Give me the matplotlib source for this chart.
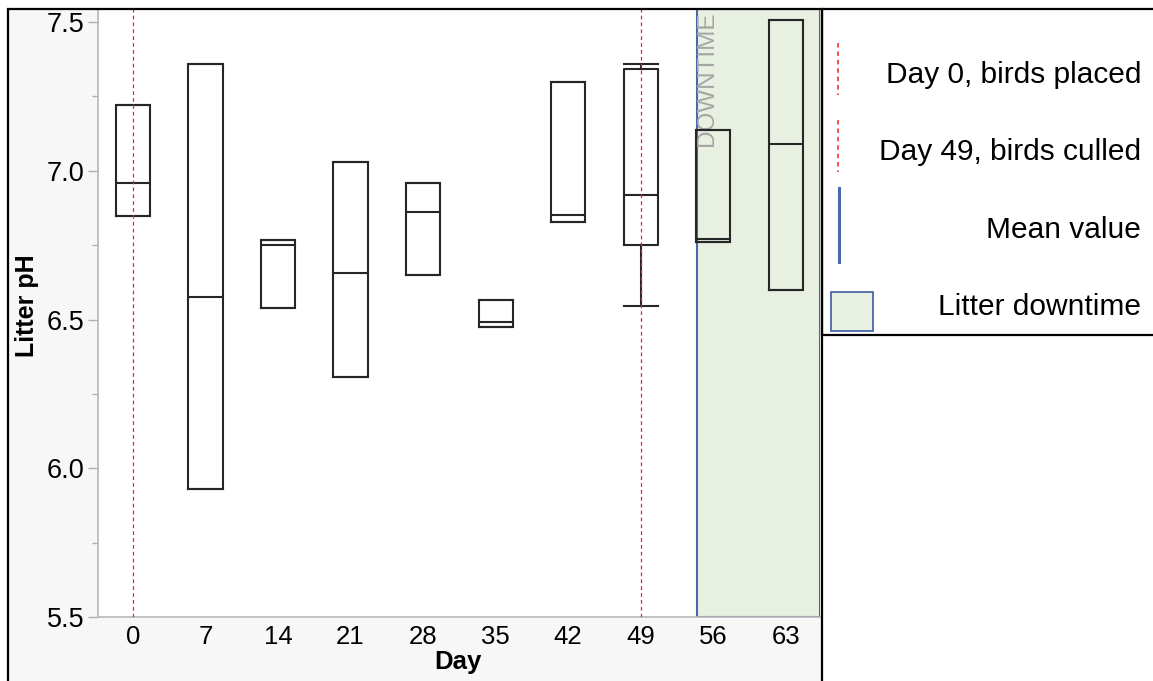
import matplotlib
matplotlib.use("Agg")
import matplotlib.pyplot as plt
from matplotlib.patches import Rectangle
from matplotlib.lines import Line2D
from matplotlib.ticker import MultipleLocator

plt.rcParams['font.family'] = ['Liberation Sans', 'DejaVu Sans']

# Litter pH by sampling day
days = [0, 7, 14, 21, 28, 35, 42, 49, 56, 63]
q1 = [6.849, 5.931, 6.539, 6.308, 6.65, 6.476, 6.827, 6.75, 6.76, 6.598]
median = [6.96, 6.577, 6.749, 6.658, 6.86, 6.493, 6.85, 6.92, 6.77, 7.09]
q3 = [7.22, 7.359, 6.768, 7.029, 6.958, 6.567, 7.30, 7.343, 7.136, 7.507]
whisker_low = [6.849, 5.931, 6.539, 6.308, 6.65, 6.476, 6.827, 6.547, 6.76, 6.598]
whisker_high = [7.22, 7.359, 6.768, 7.029, 6.958, 6.567, 7.30, 7.359, 7.136, 7.507]

event_days = [0, 49]
downtime_start = 54.4
y_ticks = [5.5, 6.0, 6.5, 7.0, 7.5]

W, H = 1153, 681
fig = plt.figure(figsize=(W / 100, H / 100), dpi=100)
fig.patch.set_facecolor('white')

def fx(px):
    return px / W

def fy(py):
    return 1 - py / H

RED = '#f02020'

# grey chart panel with black frame
panel = Rectangle((fx(8), fy(684)), fx(822) - fx(8), fy(9) - fy(684),
                  transform=fig.transFigure, facecolor='#f7f7f7',
                  edgecolor='none', zorder=-2)
fig.patches.append(panel)
frame = Rectangle((fx(8), fy(684)), fx(822) - fx(8), fy(9) - fy(684),
                  transform=fig.transFigure, facecolor='none',
                  edgecolor='black', linewidth=1.6, zorder=5)
fig.patches.append(frame)

ax = fig.add_axes([fx(98), fy(617), fx(820) - fx(98), fy(9) - fy(617)])
ax.set_facecolor('white')
ax.set_xlim(-3.37, 66.3)
ax.set_ylim(5.5, 7.544)

# litter downtime shading
ax.axvspan(downtime_start, 66.3, facecolor='#e8f0e1', edgecolor='#4a68a6',
           linewidth=1.5, zorder=1)
ax.text(downtime_start + 0.95, 7.535, 'DOWNTIME', rotation=90, ha='center',
        va='top', fontsize=17.5, color='#a6a6a6', zorder=2)

# placement / cull markers
for d in event_days:
    ax.axvline(d, color=RED, linestyle=(0, (3, 2.5)), linewidth=0.9,
               zorder=4)

stats = []
for d, lo, a, m, b, hi in zip(days, whisker_low, q1, median, q3, whisker_high):
    stats.append(dict(label=str(d), whislo=lo, q1=a, med=m, q3=b, whishi=hi,
                      fliers=[]))

bw = 3.3
lc = '#262626'
ax.bxp(stats, positions=days, widths=bw, capwidths=bw, showfliers=False,
       patch_artist=False, manage_ticks=False,
       boxprops=dict(color=lc, linewidth=1.5),
       medianprops=dict(color=lc, linewidth=1.5),
       whiskerprops=dict(color=lc, linewidth=1.5),
       capprops=dict(color=lc, linewidth=1.5), zorder=3)

for side in ['top', 'right']:
    ax.spines[side].set_visible(False)
for side in ['left', 'bottom']:
    ax.spines[side].set_color('#b8b8b8')
    ax.spines[side].set_linewidth(1.2)

ax.set_xticks(days)
ax.set_xticklabels([str(d) for d in days], fontsize=18.5)
ax.tick_params(axis='x', length=0, pad=6)
ax.set_yticks(y_ticks)
ax.set_yticklabels([f'{v:.1f}' for v in y_ticks], fontsize=19.5)
ax.yaxis.set_minor_locator(MultipleLocator(0.25))
ax.tick_params(axis='y', which='major', length=7, width=1, color='#b0b0b0', pad=3)
ax.tick_params(axis='y', which='minor', length=4, width=1, color='#b0b0b0')

fig.text(fx(27), fy(306), 'Litter pH', rotation=90, ha='center', va='center',
         fontsize=18, fontweight='bold')
fig.text(fx(458), fy(662), 'Day', ha='center', va='center',
         fontsize=18.5, fontweight='bold')

# legend panel
leg = Rectangle((fx(822), fy(335)), fx(1160) - fx(822), fy(9) - fy(335),
                transform=fig.transFigure, facecolor='white',
                edgecolor='black', linewidth=1.6, zorder=1)
fig.patches.append(leg)

entries = [
    ('Day 0, birds placed', 75, 'red'),
    ('Day 49, birds culled', 152, 'red'),
    ('Mean value', 230, 'blue'),
    ('Litter downtime', 307, 'box'),
]
for label, ypx, kind in entries:
    fig.text(fx(1141), fy(ypx), label, ha='right', va='center', fontsize=21.5)
    if kind == 'red':
        fig.lines.append(Line2D([fx(838), fx(838)], [fy(ypx - 32), fy(ypx + 20)],
                                transform=fig.transFigure, color=RED,
                                linestyle=(0, (3, 2.5)), linewidth=1.1))
    elif kind == 'blue':
        fig.lines.append(Line2D([fx(839), fx(839)], [fy(ypx - 42), fy(ypx + 32)],
                                transform=fig.transFigure, color='#4a68b0',
                                linewidth=2.2))
    else:
        fig.patches.append(Rectangle((fx(831), fy(331)), fx(873) - fx(831),
                                     fy(292) - fy(331),
                                     transform=fig.transFigure,
                                     facecolor='#e8f0e1', edgecolor='#4a68a6',
                                     linewidth=1.3))

fig.savefig('out.png', dpi=100)
